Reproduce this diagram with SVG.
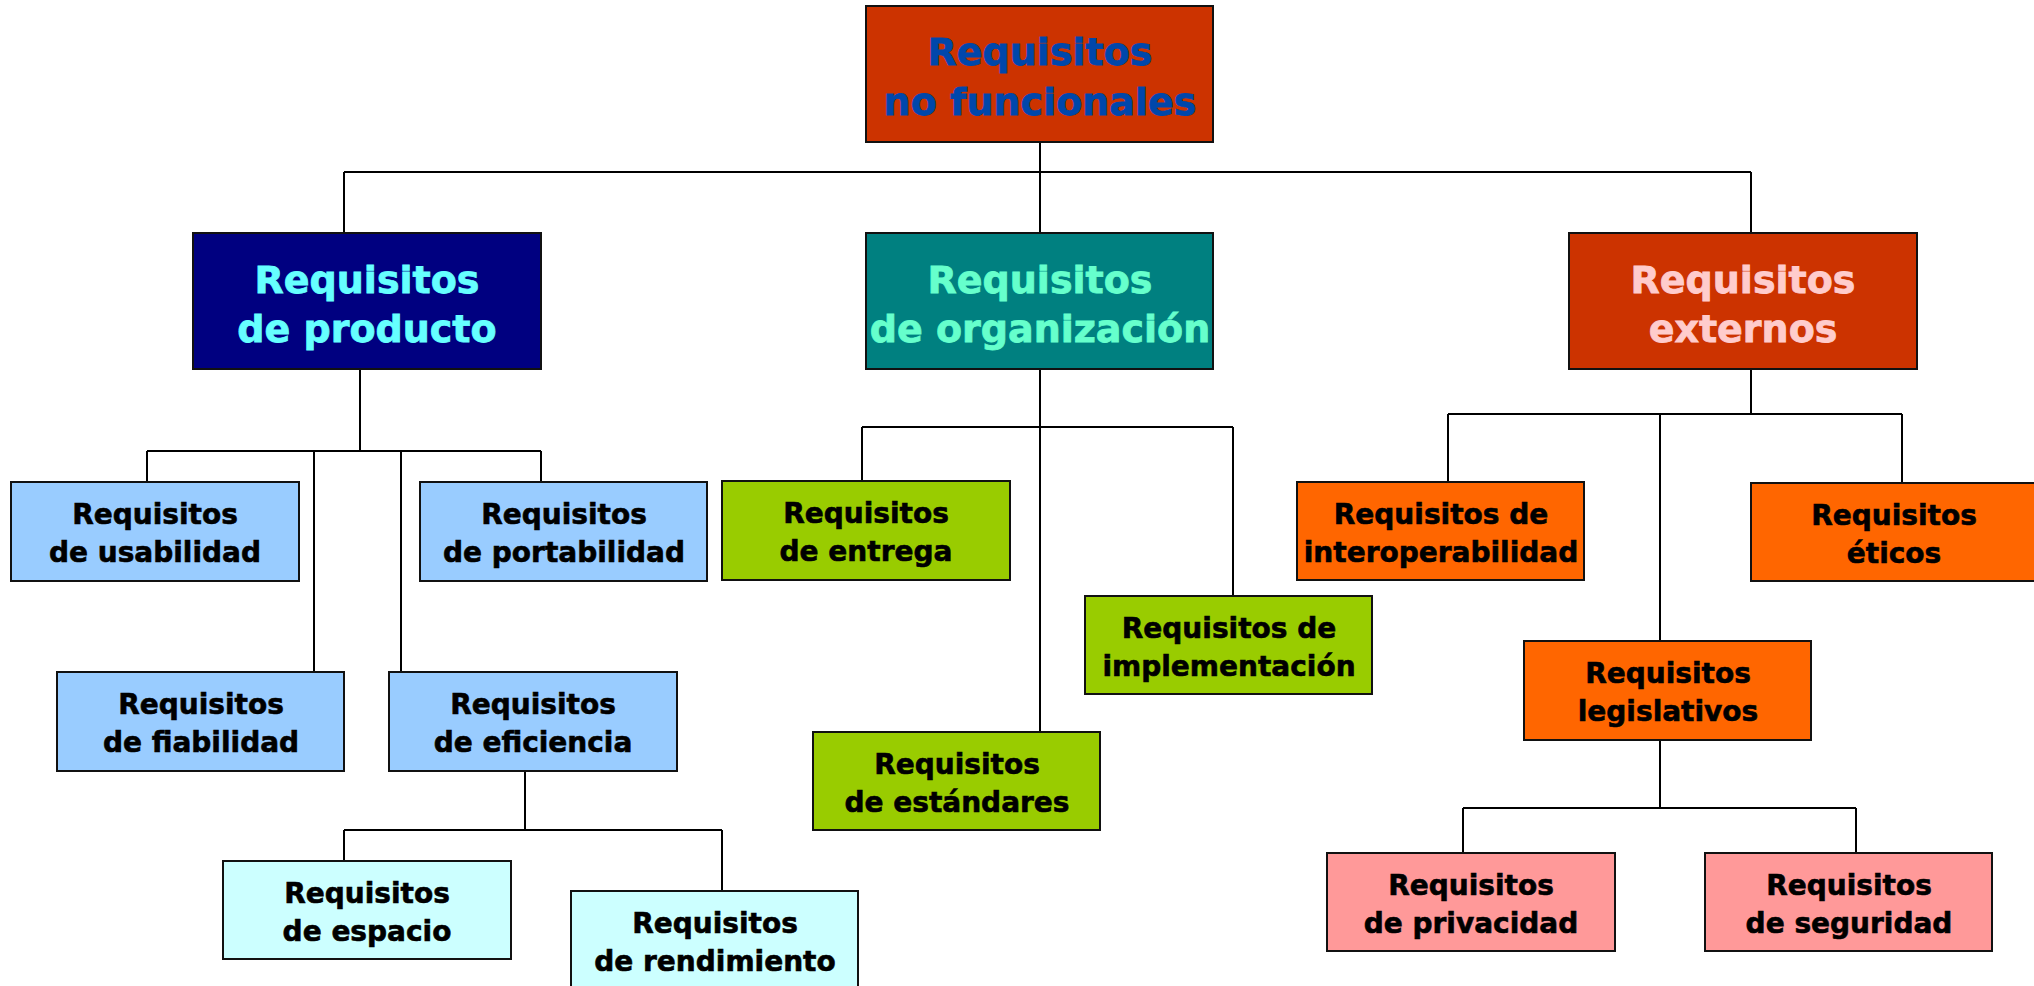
<svg xmlns="http://www.w3.org/2000/svg" width="2034" height="986" viewBox="0 0 2034 986">
<style>
rect{stroke:#111;stroke-width:2}
text{font-family:"DejaVu Sans","Verdana",sans-serif;font-weight:bold;text-anchor:middle}
.big{font-size:38px;stroke-width:0.8}
.sm{font-size:28px;fill:#000;stroke:#000;stroke-width:0.6}
.c0{fill:#0047AB;stroke:#0047AB}
.c1{fill:#66FFFF;stroke:#66FFFF}
.c2{fill:#66FFCC;stroke:#66FFCC}
.c3{fill:#FFCCCC;stroke:#FFCCCC}
#connectors path{fill:none;stroke:#000;stroke-width:2}
</style>
<rect x="0" y="0" width="2034" height="986" fill="#fff" style="stroke:none"/>
<g id="connectors">
<path d="M1040 142V233M344 172H1751M344 172V233M1751 172V233"/>
<path d="M360 369V451M147 451H541M147 451V482M314 451V672M401 451V672M541 451V482"/>
<path d="M525 771V830M344 830H722M344 830V861M722 830V891"/>
<path d="M1040 369V732M862 427H1233M862 427V481M1233 427V596"/>
<path d="M1751 369V414M1448 414H1902M1448 414V482M1660 414V641M1902 414V483"/>
<path d="M1660 740V808M1463 808H1856M1463 808V853M1856 808V853"/>
</g>
<g id="root"><rect x="866" y="6" width="347" height="136" fill="#CC3300"/>
<text class="big c0" x="1040" y="65">Requisitos</text><text class="big c0" x="1040" y="115">no funcionales</text></g>
<g id="producto"><rect x="193" y="233" width="348" height="136" fill="#000080"/>
<text class="big c1" x="367" y="293">Requisitos</text><text class="big c1" x="367" y="342">de producto</text></g>
<g id="organizacion"><rect x="866" y="233" width="347" height="136" fill="#008080"/>
<text class="big c2" x="1040" y="293">Requisitos</text><text class="big c2" x="1040" y="342">de organización</text></g>
<g id="externos"><rect x="1569" y="233" width="348" height="136" fill="#CC3300"/>
<text class="big c3" x="1743" y="293">Requisitos</text><text class="big c3" x="1743" y="342">externos</text></g>
<g id="usabilidad"><rect x="11" y="482" width="288" height="99" fill="#99CCFF"/>
<text class="sm" x="155" y="524">Requisitos</text><text class="sm" x="155" y="562">de usabilidad</text></g>
<g id="portabilidad"><rect x="420" y="482" width="287" height="99" fill="#99CCFF"/>
<text class="sm" x="564" y="524">Requisitos</text><text class="sm" x="564" y="562">de portabilidad</text></g>
<g id="fiabilidad"><rect x="57" y="672" width="287" height="99" fill="#99CCFF"/>
<text class="sm" x="201" y="714">Requisitos</text><text class="sm" x="201" y="752">de fiabilidad</text></g>
<g id="eficiencia"><rect x="389" y="672" width="288" height="99" fill="#99CCFF"/>
<text class="sm" x="533" y="714">Requisitos</text><text class="sm" x="533" y="752">de eficiencia</text></g>
<g id="espacio"><rect x="223" y="861" width="288" height="98" fill="#CCFFFF"/>
<text class="sm" x="367" y="903">Requisitos</text><text class="sm" x="367" y="941">de espacio</text></g>
<g id="rendimiento"><rect x="571" y="891" width="287" height="99" fill="#CCFFFF"/>
<text class="sm" x="715" y="933">Requisitos</text><text class="sm" x="715" y="971">de rendimiento</text></g>
<g id="entrega"><rect x="722" y="481" width="288" height="99" fill="#99CC00"/>
<text class="sm" x="866" y="523">Requisitos</text><text class="sm" x="866" y="561">de entrega</text></g>
<g id="estandares"><rect x="813" y="732" width="287" height="98" fill="#99CC00"/>
<text class="sm" x="957" y="774">Requisitos</text><text class="sm" x="957" y="812">de estándares</text></g>
<g id="implementacion"><rect x="1085" y="596" width="287" height="98" fill="#99CC00"/>
<text class="sm" x="1229" y="638">Requisitos de</text><text class="sm" x="1229" y="676">implementación</text></g>
<g id="interoperabilidad"><rect x="1297" y="482" width="287" height="98" fill="#FF6600"/>
<text class="sm" x="1441" y="524">Requisitos de</text><text class="sm" x="1441" y="562">interoperabilidad</text></g>
<g id="eticos"><rect x="1751" y="483" width="287" height="98" fill="#FF6600"/>
<text class="sm" x="1894" y="525">Requisitos</text><text class="sm" x="1894" y="563">éticos</text></g>
<g id="legislativos"><rect x="1524" y="641" width="287" height="99" fill="#FF6600"/>
<text class="sm" x="1668" y="683">Requisitos</text><text class="sm" x="1668" y="721">legislativos</text></g>
<g id="privacidad"><rect x="1327" y="853" width="288" height="98" fill="#FF9999"/>
<text class="sm" x="1471" y="895">Requisitos</text><text class="sm" x="1471" y="933">de privacidad</text></g>
<g id="seguridad"><rect x="1705" y="853" width="287" height="98" fill="#FF9999"/>
<text class="sm" x="1849" y="895">Requisitos</text><text class="sm" x="1849" y="933">de seguridad</text></g>
</svg>
